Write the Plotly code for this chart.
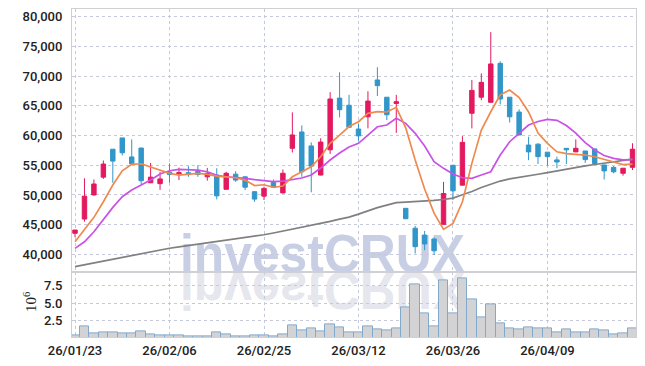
import base64
import plotly.graph_objects as go

dates = ["26/01/23", "26/01/26", "26/01/27", "26/01/28", "26/01/29", "26/01/30",
         "26/02/02", "26/02/03", "26/02/04", "26/02/05", "26/02/06", "26/02/09",
         "26/02/10", "26/02/11", "26/02/12", "26/02/13", "26/02/19", "26/02/20",
         "26/02/23", "26/02/24", "26/02/25", "26/02/26", "26/02/27", "26/03/03",
         "26/03/04", "26/03/05", "26/03/06", "26/03/09", "26/03/10", "26/03/11",
         "26/03/12", "26/03/13", "26/03/16", "26/03/17", "26/03/18", "26/03/19",
         "26/03/20", "26/03/23", "26/03/24", "26/03/25", "26/03/26", "26/03/27",
         "26/03/30", "26/03/31", "26/04/01", "26/04/02", "26/04/03", "26/04/06",
         "26/04/07", "26/04/08", "26/04/09", "26/04/10", "26/04/13", "26/04/14",
         "26/04/15", "26/04/16", "26/04/17", "26/04/20", "26/04/21", "26/04/22"]

open_ = [43550, 45950, 50000, 53000, 57700, 59600, 56400, 57900, 52050, 51900,
         53850, 53550, 53750, 53950, 53050, 53350, 50950, 53500, 53050, 50550,
         49800, 52100, 50350, 57850, 60600, 58250, 53350, 57600, 66300, 65100,
         61100, 63150, 69350, 66450, 65400, 47750, 44400, 43250, 42600, 45050,
         55000, 51650, 63750, 66450, 65600, 72150, 66450, 63950, 58400, 58550,
         57200, 55900, 57850, 57250, 57400, 57750, 55050, 54650, 53650, 54650]
high = [44100, 52800, 52600, 55800, 57700, 59600, 59350, 57900, 55400, 53850,
        55300, 54600, 54850, 55000, 54550, 54500, 53900, 54000, 53100, 50600,
        51400, 52600, 54300, 63900, 61700, 58850, 59550, 67300, 70650, 66850,
        61950, 67450, 71500, 66450, 66850, 47750, 44800, 43950, 42950, 52200,
        55000, 59900, 69350, 70450, 77400, 72500, 66450, 64400, 59800, 58700,
        57250, 56450, 57900, 59350, 57400, 57800, 55050, 54850, 54500, 58700]
low = [42900, 45500, 49900, 52700, 52050, 56650, 55250, 51800, 52000, 50850,
       52050, 52500, 53050, 53050, 52400, 49250, 50950, 52200, 50800, 48850,
       49150, 51250, 50250, 57150, 53050, 50450, 53300, 56900, 63050, 61300,
       59100, 61200, 66650, 62600, 60450, 46000, 40150, 40700, 39900, 45000,
       49150, 51600, 61200, 65950, 65500, 65250, 62200, 60050, 55850, 55200,
       54900, 54500, 55200, 57200, 55400, 55300, 52600, 53650, 53250, 54200]
close = [44100, 49800, 51850, 55200, 55700, 57100, 55250, 52400, 53000, 52700,
         53450, 53750, 53550, 53450, 53650, 49850, 53650, 52500, 51300, 49300,
         51100, 51300, 53650, 60100, 53900, 54850, 58900, 66150, 64350, 61400,
         59950, 65800, 68400, 63500, 65700, 46000, 41300, 41750, 40600, 50250,
         50700, 58850, 67600, 68950, 72050, 66150, 63150, 60100, 57250, 56450,
         56450, 55550, 57600, 57850, 55950, 55300, 54050, 53900, 54500, 57700]

ma_short = [42120, 44090, 46230, 48860, 51670, 54070, 55150, 55250, 54750, 54140,
            53640, 53350, 53470, 53640, 53470, 53180, 53060, 52900, 52510, 51580,
            51720, 51280, 51500, 53060, 53910, 54750, 56430, 58690, 60080, 61520,
            62320, 63740, 64010, 63960, 64750, 61300, 55900, 51000, 46950, 44200,
            45220, 48860, 55320, 60930, 64000, 66850, 67660, 66400, 63960, 60420,
            58690, 57270, 56970, 56890, 56720, 56430, 55960, 55460, 55120, 55200]
ma_mid = [41010, 42120, 43810, 45890, 47910, 49700, 50830, 51670, 52510, 53520,
          54070, 54310, 54310, 54190, 53910, 53300, 53060, 52960, 52800, 52590,
          52420, 52260, 52340, 52590, 52850, 53350, 54530, 55880, 57050, 58060,
          58690, 60080, 61480, 61770, 62900, 62050, 60370, 58230, 55620, 54480,
          53520, 52900, 52800, 53350, 53910, 56720, 58960, 60370, 61770, 62360,
          62730, 62560, 61680, 60420, 58820, 57560, 56630, 56160, 55910, 55960]
ma_long = [37950, 38270, 38590, 38910, 39230, 39550, 39870, 40190, 40510, 40810,
           41030, 41250, 41470, 41680, 41900, 42120, 42340, 42560, 42760, 43000,
           43300, 43600, 43910, 44230, 44560, 44880, 45220, 45560, 45930, 46280,
           46780, 47360, 47860, 48300, 48720, 48810, 48870, 48970, 49090, 49240,
           49480, 50030, 50570, 51250, 51840, 52340, 52710, 53010, 53270, 53490,
           53750, 54060, 54360, 54650, 54900, 55130, 55370, 55610, 55830, 56040]

volume_m = [0.44, 1.71, 0.76, 0.9, 0.9, 0.76, 0.76, 1.0, 0.58, 0.44,
            0.44, 0.44, 0.3, 0.3, 0.3, 0.86, 0.58, 0.3, 0.3, 0.38,
            0.38, 0.3, 0.58, 1.85, 1.14, 1.43, 1.0, 1.99, 1.57, 0.86,
            0.86, 1.71, 1.29, 1.14, 1.43, 4.34, 7.64, 3.54, 1.71, 8.15,
            3.54, 8.49, 5.52, 2.98, 4.82, 2.13, 1.43, 1.29, 1.57, 1.43,
            1.43, 0.9, 1.29, 0.9, 0.9, 1.29, 1.14, 0.58, 0.76, 1.43]

tick_dates = ["26/01/23", "26/02/06", "26/02/25", "26/03/12", "26/03/26", "26/04/09"]
price_ticks = [40000, 45000, 50000, 55000, 60000, 65000, 70000, 75000, 80000]
volume_ticks = [2.5, 5.0, 7.5]

RED = "#e3195f"
BLUE = "#3196ca"
GRID = "#c6c9dc"
BORDER = "#cfcfd4"
TXT = "#222222"
FONT = "Liberation Sans Narrow, Arial Narrow, Roboto, sans-serif"

fig = go.Figure()

fig.add_trace(go.Bar(
    x=dates, y=volume_m, xaxis="x", yaxis="y",
    marker=dict(color="#d3d3d5", line=dict(color="#80a9cb", width=1)),
    hoverinfo="skip"))

fig.add_trace(go.Candlestick(
    x=dates, open=open_, high=high, low=low, close=close,
    xaxis="x2", yaxis="y2", whiskerwidth=0,
    increasing=dict(line=dict(color=RED, width=1), fillcolor=RED),
    decreasing=dict(line=dict(color=BLUE, width=1), fillcolor=BLUE)))

for vals, col in [(ma_long, "#808080"), (ma_mid, "#c952e6"), (ma_short, "#ef8a4f")]:
    fig.add_trace(go.Scatter(x=dates, y=vals, mode="lines", xaxis="x2", yaxis="y2",
                             line=dict(color=col, width=1.7), hoverinfo="skip"))

# watermark with reflection
svg = (
    '<svg xmlns="http://www.w3.org/2000/svg" width="290" height="95" viewBox="0 0 290 95" '
    'preserveAspectRatio="none">'
    '<text x="2" y="47" font-family="Liberation Sans, Arial, sans-serif" font-weight="bold" '
    'font-size="54" fill="#c8cee4" textLength="285" lengthAdjust="spacingAndGlyphs">investCRUX</text>'
    '<g transform="translate(0,94) scale(1,-1)">'
    '<text x="2" y="47" font-family="Liberation Sans, Arial, sans-serif" font-weight="bold" '
    'font-size="54" fill="#e5e6ee" textLength="285" lengthAdjust="spacingAndGlyphs">investCRUX</text>'
    '</g></svg>')
src = "data:image/svg+xml;base64," + base64.b64encode(svg.encode()).decode()

fig.update_layout(
    width=645, height=366,
    margin=dict(l=72, r=9, t=9, b=29, autoexpand=False),
    paper_bgcolor="white", plot_bgcolor="white",
    showlegend=False, bargap=0, boxgap=0.33,
    font=dict(family=FONT, size=13, color=TXT, weight=500),
    images=[dict(source=src, xref="paper", yref="paper", x=0.1879, y=0.3415,
                 sizex=0.5142, sizey=0.2896, xanchor="left", yanchor="top",
                 sizing="stretch", layer="below")],
    xaxis=dict(type="category", domain=[0, 1], anchor="y", range=[-0.32, 59.37],
               tickmode="array", tickvals=tick_dates, ticktext=tick_dates,
               showgrid=True, gridcolor=GRID, griddash="dot", gridwidth=1,
               showline=True, mirror=True, linecolor=BORDER, linewidth=1,
               ticks="", tickangle=0, ticklabelstandoff=1, automargin=False,
               rangeslider=dict(visible=False)),
    xaxis2=dict(type="category", domain=[0, 1], anchor="y2", matches="x",
                range=[-0.32, 59.37], tickmode="array", tickvals=tick_dates,
                showticklabels=False, showgrid=True, gridcolor=GRID, griddash="dot",
                showline=True, mirror=True, linecolor=BORDER, linewidth=1, ticks="",
                automargin=False, rangeslider=dict(visible=False)),
    yaxis=dict(domain=[0, 0.197], anchor="x", range=[0.2, 9.34],
               tickmode="array", tickvals=volume_ticks, tickformat=".1f",
               showgrid=True, gridcolor=GRID, griddash="dot",
               showline=True, mirror=True, linecolor=BORDER, zeroline=False,
               ticks="", ticklabelstandoff=6, automargin=False),
    yaxis2=dict(domain=[0.197, 1], anchor="x2", range=[36970, 81296],
                tickmode="array", tickvals=price_ticks, tickformat=",d",
                showgrid=True, gridcolor=GRID, griddash="dot",
                showline=True, mirror=True, linecolor=BORDER, zeroline=False,
                ticks="", ticklabelstandoff=6, automargin=False),
    annotations=[dict(text="10<sup>6</sup>", textangle=-90, xref="paper", yref="paper",
                      x=-0.0745, y=0.1067, xanchor="center", yanchor="middle",
                      showarrow=False,
                      font=dict(family="Liberation Serif, DejaVu Serif, serif", size=15,
                                color=TXT))],
)

fig.write_html("out.html", config={"displayModeBar": False},
               post_script="document.body.style.margin='0';document.body.style.padding='0';")
